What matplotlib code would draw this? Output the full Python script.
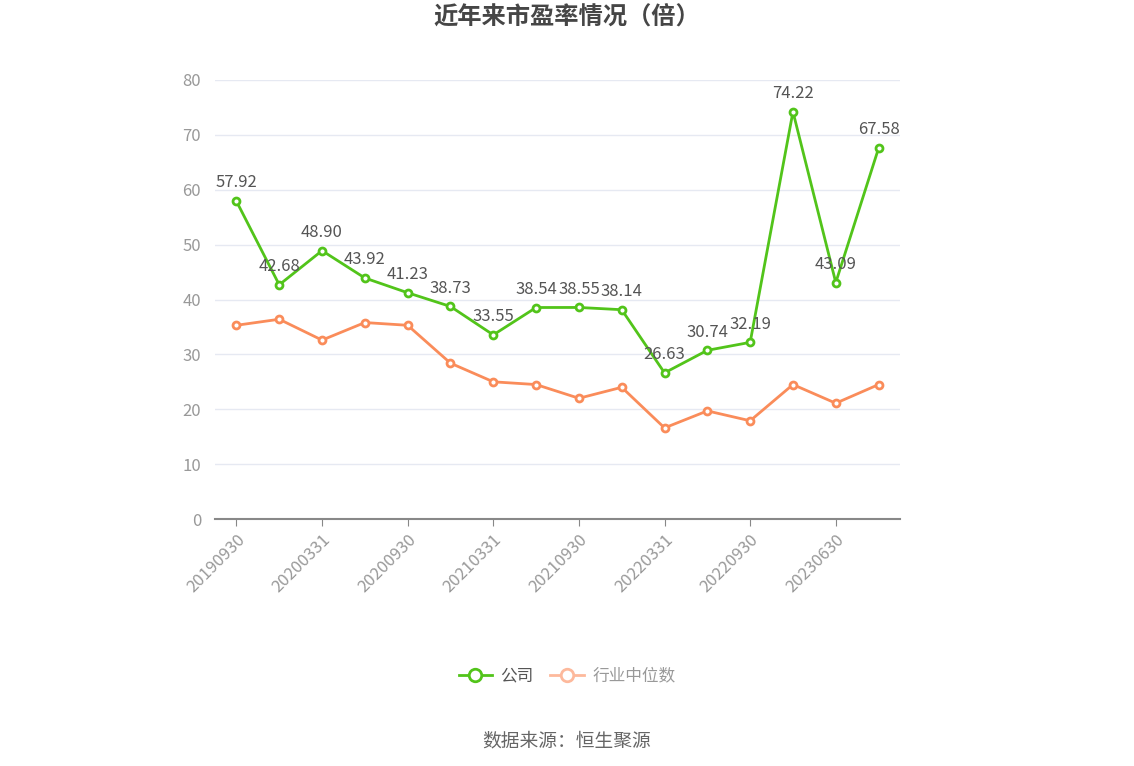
import numpy as np
import matplotlib.pyplot as plt
from matplotlib.lines import Line2D

plt.rcParams['font.family'] = ['Noto Sans CJK SC', 'DejaVu Sans']

dates = ['20190930', '20191231', '20200331', '20200630', '20200930', '20201231',
         '20210331', '20210630', '20210930', '20211231', '20220331', '20220630',
         '20220930', '20230331', '20230630', '20230930']
company = [57.92, 42.68, 48.90, 43.92, 41.23, 38.73, 33.55, 38.54, 38.55, 38.14,
           26.63, 30.74, 32.19, 74.22, 43.09, 67.58]
industry = [35.3, 36.4, 32.6, 35.8, 35.3, 28.4, 25.0, 24.5, 22.0, 24.0,
            16.6, 19.7, 17.9, 24.5, 21.1, 24.5]

green = '#52c41a'
orange = '#fa8c5a'

fig = plt.figure(figsize=(11.34, 7.66), dpi=100)
ax = fig.add_axes([215 / 1134, 247 / 766, 685 / 1134, 439 / 766])

x = np.arange(len(dates))
ax.plot(x, industry, color=orange, lw=2, marker='o', ms=5, mfc='white',
        mec=orange, mew=2, zorder=3)
ax.plot(x, company, color=green, lw=2, marker='o', ms=5, mfc='white',
        mec=green, mew=2, zorder=4)

for xi, v in zip(x, company):
    ax.annotate(f'{v:.2f}', (xi, v), xytext=(0, 7), textcoords='offset points',
                ha='center', va='bottom', fontsize=12, color='#555555', zorder=5)

ax.set_xlim(-0.5, len(dates) - 0.5)
ax.set_ylim(0, 80)
ax.set_yticks(range(0, 81, 10))
ax.set_xticks(x[::2])
ax.set_xticklabels(dates[::2], rotation=45, ha='right', rotation_mode='anchor')
ax.tick_params(axis='y', length=0, labelsize=12, labelcolor='#999999', pad=10)
ax.tick_params(axis='x', length=5, color='#888888', labelsize=12,
               labelcolor='#999999', pad=4)
ax.grid(axis='y', color='#e6e9f2', lw=1)
ax.set_axisbelow(True)
for s in ['top', 'right', 'left']:
    ax.spines[s].set_visible(False)
ax.spines['bottom'].set_color('#888888')
ax.spines['bottom'].set_linewidth(1.5)

fig.text(0.5, 1 - 18 / 766, '近年来市盈率情况（倍）', ha='center', va='center',
         fontsize=17.5, fontweight='bold', color='#464646')

handles = [
    Line2D([], [], color=green, lw=2, marker='o', ms=9, mfc='white', mec=green, mew=2),
    Line2D([], [], color='#fdb99c', lw=2, marker='o', ms=9, mfc='white', mec='#fdb99c', mew=2),
]
leg = fig.legend(handles, ['公司', '行业中位数'], loc='center',
                 bbox_to_anchor=(567 / 1134, 1 - 676 / 766), ncol=2, frameon=False,
                 fontsize=12, handlelength=2.0, columnspacing=1.0, handletextpad=0.5)
leg.get_texts()[0].set_color('#555555')
leg.get_texts()[1].set_color('#999999')

fig.text(0.5, 1 - 741 / 766, '数据来源：恒生聚源', ha='center', va='center',
         fontsize=13.5, color='#666666')

fig.savefig('out.png', dpi=100)
